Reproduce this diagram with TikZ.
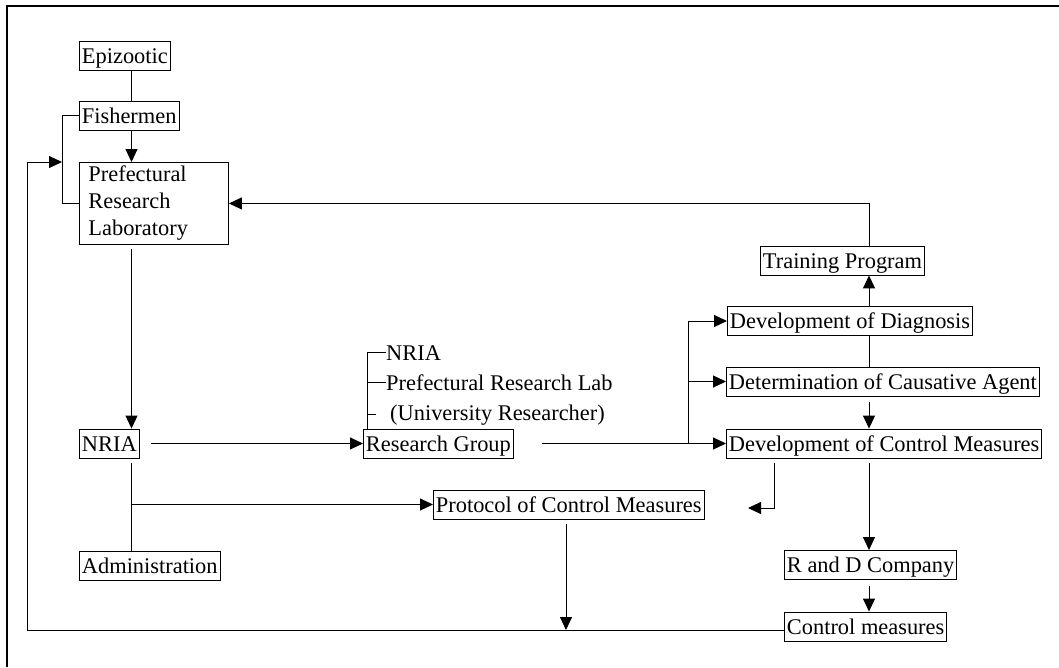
\documentclass[tikz,border=0pt]{standalone}
\usepackage{fontspec}
\setmainfont{Liberation Serif}
\usetikzlibrary{arrows.meta,calc}
\begin{document}
\begin{tikzpicture}[x=1pt,y=-1pt,
  box/.style={draw, line width=0.9pt, inner xsep=2.5pt, inner ysep=3pt,
    text height=19pt, text depth=4pt, anchor=west,
    font=\fontsize{22.4}{27}\selectfont},
  bigbox/.style={draw, line width=0.9pt, anchor=north west, inner xsep=9pt,
    inner ysep=0pt, text width=131pt, minimum height=82pt, align=left,
    font=\fontsize{22.4}{27}\selectfont},
  lbl/.style={inner sep=0pt, anchor=base west, font=\fontsize{22.4}{27}\selectfont},
  conn/.style={line width=1pt},
  arr/.style={conn, -{Triangle[length=13pt,width=12pt]}},
  frame/.style={line width=2pt}
]
\useasboundingbox (0,0) rectangle (1059,667);
\draw[frame] (7,667) -- (7,6) -- (1059,6);

% column coordinates
\coordinate (xA) at (131.5,0);
\coordinate (xR) at (869,0);
\coordinate (xB) at (688,0);
\coordinate (xL) at (27,0);
\coordinate (xK) at (62,0);
\coordinate (xP) at (566,0);
\coordinate (xD) at (774,0);
\coordinate (xG) at (367,0);
\coordinate (bot) at (0,630);
\coordinate (ret) at (748,508);

% nodes
\node[box] (epi) at (79,55.5) {Epizootic};
\node[box] (fish) at (79,115.5) {Fishermen};
\node[bigbox] (prl) at (79,162) {Prefectural\\Research\\Laboratory};
\node[box] (nria) at (79,443.5) {NRIA};
\node[box] (admin) at (79,565.5) {Administration};
\node[box] (rg) at (363,443.5) {Research Group};
\node[box] (prot) at (433,504.5) {Protocol of Control Measures};
\node[box] (train) at (760,260.5) {Training Program};
\node[box] (dod) at (727,321) {Development of Diagnosis};
\node[box] (det) at (726,381.5) {Determination of Causative Agent};
\node[box] (docm) at (726,443.5) {Development of Control Measures};
\node[box] (rd) at (784,565) {R and D Company};
\node[box] (cm) at (784,626.5) {Control measures};

\node[lbl] (l1) at (386,360) {NRIA};
\node[lbl] (l2) at (386,390) {Prefectural Research Lab};
\node[lbl] (l3) at (390,420) {(University Researcher)};

% connectors - left column
\draw[conn] (epi.south -| xA) -- (fish.north -| xA);
\draw[arr] (fish.south -| xA) -- (prl.north -| xA);
\draw[conn] (fish.west) -| (xK |- prl.west) -- (prl.west);
\draw[arr] (cm.west |- bot) -| (xL |- prl.north) -- (xK |- prl.north);
\draw[arr] ($(prl.south -| xA)+(0,4)$) -- (nria.north -| xA);
\draw[arr] ($(nria.east)+(11,0)$) -- (rg.west);
\draw[conn] ($(nria.south -| xA)+(0,5)$) -- (admin.north -| xA);
\draw[arr] (xA |- prot.west) -- (prot.west);
\draw[arr] ($(prot.south -| xP)+(0,5)$) -- (xP |- bot);

% research group list
\draw[conn] (l1.west) -| (xG |- rg.north);
\draw[conn] (l2.west) -- (l2.west -| xG);
\draw[conn] ($(l3.west -| xG)+(9,0)$) -- (l3.west -| xG);

% right side
\draw[arr] ($(rg.east)+(28,0)$) -- (docm.west);
\draw[arr] (xB |- docm.west) |- (dod.west);
\draw[arr] (xB |- det.west) -- (det.west);
\draw[arr] (train.north -| xR) |- (prl.east);
\draw[arr] (dod.north -| xR) -- (train.south -| xR);
\draw[conn] (dod.south -| xR) -- (det.north -| xR);
\draw[arr] ($(det.south -| xR)+(0,6)$) -- (docm.north -| xR);
\draw[arr] ($(docm.south -| xD)+(0,5)$) |- (ret);
\draw[arr] ($(docm.south -| xR)+(0,5)$) -- (rd.north -| xR);
\draw[arr] ($(rd.south -| xR)+(0,6)$) -- (cm.north -| xR);
\end{tikzpicture}
\end{document}
